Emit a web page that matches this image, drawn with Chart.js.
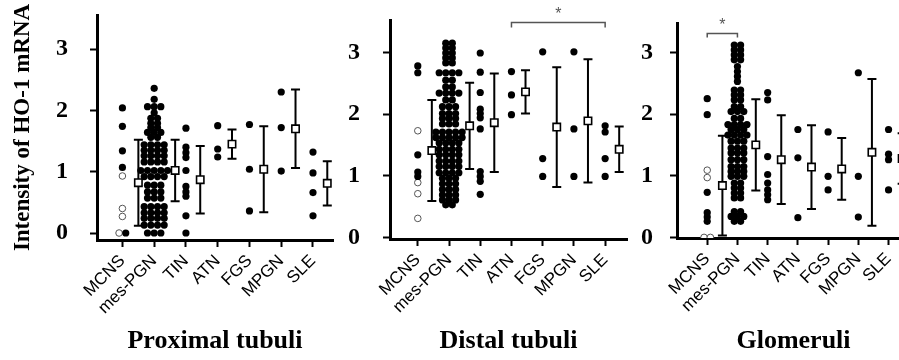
<!DOCTYPE html>
<html>
<head>
<meta charset="utf-8">
<script src="https://cdn.jsdelivr.net/npm/chart.js@4.4.0/dist/chart.umd.min.js"></script>
<style>
  html, body { margin: 0; padding: 0; background: #fff; }
  body { width: 899px; height: 360px; overflow: hidden; position: relative; }
  canvas { position: absolute; top: 0; }
</style>
</head>
<body>
<canvas id="proximal" width="345" height="360" style="left:0px"></canvas>
<canvas id="distal" width="295" height="360" style="left:345px"></canvas>
<canvas id="glomeruli" width="285" height="360" style="left:640px"></canvas>
<script>
const categories = ['MCNS', 'mes-PGN', 'TIN', 'ATN', 'FGS', 'MPGN', 'SLE'];
const yTickValues = [0, 1, 2, 3];

// Proximal tubuli
const proximalOpen = [0.93, 0.40, 0.27, 0]; // MCNS cases drawn as open circles
const proximalDots = [
  [2.04, 1.74, 1.34, 1.07, 0],
  [2.36, 2.18, 2.06, 2.06, 2.06, 1.96, 1.87, 1.87, 1.79, 1.79, 1.72, 1.72, 1.64, 1.64, 1.64,
   1.56, 1.56, 1.44, 1.44, 1.44, 1.44, 1.35, 1.35, 1.35, 1.35, 1.26, 1.26, 1.26, 1.26,
   1.16, 1.16, 1.16, 1.16, 1.02, 1.02, 1.02, 1.02, 1.02, 0.92, 0.92, 0.92, 0.92,
   0.78, 0.78, 0.78, 0.67, 0.67, 0.67, 0.57, 0.57, 0.57, 0.43, 0.43, 0.43, 0.43,
   0.33, 0.33, 0.33, 0.33, 0.24, 0.24, 0.24, 0.24, 0.13, 0.13, 0.13, 0.13, 0, 0, 0],
  [1.71, 1.40, 1.31, 1.23, 1.02, 0.76, 0.67, 0.60, 0.28, 0],
  [1.75, 1.37, 1.24],
  [1.77, 1.04, 0.36],
  [2.30, 1.72, 1.01],
  [1.32, 0.98, 0.66, 0.28]
];
const proximalMean = [0.82, 1.02, 0.87, 1.45, 1.04, 1.70, 0.81];
const proximalSD = [0.70, 0.50, 0.55, 0.24, 0.70, 0.64, 0.36];

// Distal tubuli
const distalOpen = [1.73, 0.89, 0.71, 0.31];
const distalDots = [
  [2.78, 2.67, 1.34, 1.06, 0.99],
  [3.15, 3.15, 3.07, 3.07, 2.99, 2.99, 2.91, 2.91, 2.83, 2.83, 2.67, 2.67, 2.67, 2.67,
   2.55, 2.55, 2.44, 2.44, 2.34, 2.34, 2.34, 2.34, 2.23, 2.23, 2.12, 2.12, 2.12,
   2.01, 2.01, 2.01, 1.93, 1.93, 1.93, 1.84, 1.84, 1.84, 1.71, 1.71, 1.71, 1.71, 1.71,
   1.62, 1.62, 1.62, 1.62, 1.62, 1.53, 1.53, 1.53, 1.53, 1.43, 1.43, 1.43, 1.43,
   1.34, 1.34, 1.34, 1.34, 1.24, 1.24, 1.24, 1.24, 1.15, 1.15, 1.15, 1.15,
   1.05, 1.05, 1.05, 1.05, 0.96, 0.96, 0.96, 0.87, 0.87, 0.87, 0.78, 0.78, 0.78,
   0.69, 0.69, 0.69, 0.61, 0.61, 0.61, 0.53, 0.53],
  [2.99, 2.68, 2.35, 2.08, 2.01, 1.94, 1.76, 1.07, 0.99, 0.91, 0.70],
  [2.69, 2.31, 1.99],
  [3.01, 1.28, 0.99],
  [3.01, 1.76, 0.99],
  [1.81, 1.71, 1.28, 0.99]
];
const distalMean = [1.41, 1.81, 1.86, 2.36, 1.79, 1.89, 1.43];
const distalSD = [0.82, 0.70, 0.80, 0.35, 0.97, 1.00, 0.37];
const distalSig = [3, 6]; // ATN vs SLE

// Glomeruli
const glomOpen = [1.09, 0.97, 0, 0];
const glomDots = [
  [2.25, 1.99, 0.73, 0.40, 0.33, 0.26],
  [3.12, 3.12, 3.04, 3.04, 2.96, 2.96, 2.88, 2.88, 2.77, 2.69, 2.61, 2.53,
   2.39, 2.39, 2.31, 2.31, 2.23, 2.23, 2.12, 2.12, 2.04, 2.04, 2.04, 1.93, 1.93,
   1.83, 1.83, 1.83, 1.83, 1.75, 1.75, 1.75, 1.66, 1.66, 1.66, 1.66,
   1.56, 1.56, 1.56, 1.45, 1.45, 1.45, 1.37, 1.37, 1.37, 1.26, 1.26, 1.26,
   1.15, 1.15, 1.15, 1.07, 1.07, 1.07, 0.99, 0.99, 0.99, 0.88, 0.88, 0.80, 0.80,
   0.72, 0.72, 0.64, 0.64, 0.42, 0.42, 0.34, 0.34, 0.34, 0.26, 0.26],
  [2.35, 2.23, 1.31, 1.02, 0.88, 0.77, 0.69, 0.61],
  [1.75, 1.29, 0.32],
  [1.71, 0.99, 0.77],
  [2.67, 0.99, 0.33],
  [1.75, 1.35, 1.26, 0.77]
];
const glomMean = [0.84, 1.50, 1.26, 1.14, 1.11, 1.38, 1.28];
const glomSD = [0.81, 0.74, 0.72, 0.68, 0.50, 1.19, 0.41];
const glomSig = [0, 1]; // MCNS vs mes-PGN

const STEP = 0.21; // spacing of tied dots, in category units

// lay tied values side by side (open circles first)
function swarm(dotsByCat, openVals) {
  const filled = [], open = [], halfWidth = [];
  dotsByCat.forEach((vals, i) => {
    const all = (i === 0 ? openVals.map(v => ({ v, open: true })) : [])
      .concat(vals.map(v => ({ v, open: false })));
    const groups = new Map();
    all.forEach(d => {
      const k = d.v.toFixed(2);
      if (!groups.has(k)) groups.set(k, []);
      groups.get(k).push(d);
    });
    let hw = 0;
    groups.forEach(g => {
      g.forEach((d, k) => {
        const pt = { x: i + (k - (g.length - 1) / 2) * STEP, y: d.v };
        (d.open ? open : filled).push(pt);
      });
      hw = Math.max(hw, (g.length - 1) / 2 * STEP);
    });
    halfWidth.push(hw);
  });
  return { filled, open, halfWidth };
}

const errorBars = {
  id: 'errorBars',
  beforeDatasetsDraw(chart) {
    const { ctx, scales: { x, y } } = chart;
    chart.data.datasets.forEach(ds => {
      if (!ds.sd) return;
      ctx.save();
      ctx.strokeStyle = '#000';
      ctx.lineWidth = 2;
      ds.data.forEach((p, i) => {
        const px = x.getPixelForValue(p.x);
        const top = y.getPixelForValue(p.y + ds.sd[i]);
        const bot = y.getPixelForValue(p.y - ds.sd[i]);
        ctx.beginPath();
        ctx.moveTo(px, top); ctx.lineTo(px, bot);
        ctx.moveTo(px - 4.5, top); ctx.lineTo(px + 4.5, top);
        ctx.moveTo(px - 4.5, bot); ctx.lineTo(px + 4.5, bot);
        ctx.stroke();
      });
      ctx.restore();
    });
  }
};

const sigBracket = {
  id: 'sigBracket',
  afterDatasetsDraw(chart, args, opts) {
    if (!opts || !opts.pair) return;
    const { ctx, scales: { x } } = chart;
    const x1 = x.getPixelForValue(opts.pair[0]);
    const x2 = x.getPixelForValue(opts.pair[1]);
    const yb = chart.chartArea.top + opts.offset;
    ctx.save();
    ctx.strokeStyle = '#555';
    ctx.lineWidth = 1.5;
    ctx.beginPath();
    ctx.moveTo(x1, yb + opts.drop); ctx.lineTo(x1, yb);
    ctx.lineTo(x2, yb); ctx.lineTo(x2, yb + opts.drop);
    ctx.stroke();
    ctx.fillStyle = '#555';
    ctx.font = '16px "Liberation Sans"';
    ctx.textAlign = 'center';
    ctx.textBaseline = 'middle';
    ctx.fillText('*', (x1 + x2) / 2, yb - 8);
    ctx.restore();
  }
};

function makeChart(id, o) {
  const s = swarm(o.dots, o.open);
  const means = o.mean.map((m, i) => ({ x: i + 0.45 + s.halfWidth[i] * 0.5, y: m }));
  const axisLine = { display: true, width: 3, color: '#000' };
  const tickMarks = { drawOnChartArea: false, drawTicks: true, tickLength: 7, tickWidth: 2, tickColor: '#000' };
  return new Chart(document.getElementById(id), {
    type: 'scatter',
    data: {
      datasets: [
        { data: s.filled, pointRadius: 3.6, pointHoverRadius: 3.6, backgroundColor: '#000', borderWidth: 0 },
        { data: s.open, pointRadius: 3.3, pointHoverRadius: 3.3, backgroundColor: '#fff', borderColor: '#555', borderWidth: 1 },
        { data: means, sd: o.sd, pointStyle: 'rect', pointRadius: 5.2, pointHoverRadius: 5.2,
          backgroundColor: '#fff', borderColor: '#000', borderWidth: 1.6 }
      ]
    },
    options: {
      responsive: false,
      animation: false,
      devicePixelRatio: 1,
      layout: { padding: { top: o.top, right: o.right, bottom: 0, left: 0 } },
      plugins: {
        legend: { display: false },
        tooltip: { enabled: false },
        sigBracket: o.bracket || false
      },
      scales: {
        x: {
          type: 'linear',
          min: o.xMin, max: o.xMax,
          afterBuildTicks: ax => { ax.ticks = categories.map((c, i) => ({ value: i })); },
          afterFit: ax => { ax.height = 360 - o.bottom; },
          ticks: {
            autoSkip: false, maxRotation: 45, minRotation: 45, padding: 4, color: '#000',
            font: { family: 'Liberation Sans', size: 17 },
            callback: v => categories[v]
          },
          grid: tickMarks,
          border: axisLine,
          title: {
            display: true, text: o.title, color: '#000',
            font: { family: 'Liberation Serif', size: 26, weight: 'bold' },
            padding: { top: 0, bottom: 3 }
          }
        },
        y: {
          min: o.yMin, max: o.yMax,
          afterBuildTicks: ax => { ax.ticks = yTickValues.map(v => ({ value: v })); },
          afterFit: ax => { ax.width = o.left; ax.paddingTop = 0; ax.paddingBottom = 0; },
          ticks: {
            padding: o.tickPad, color: '#000',
            font: { family: 'Liberation Serif', size: 24, weight: 'bold' }
          },
          grid: tickMarks,
          border: axisLine,
          title: o.yTitle ? {
            display: true, text: o.yTitle, color: '#000',
            font: { family: 'Liberation Serif', size: 23, weight: 'bold' },
            padding: { top: 9, bottom: 0 }
          } : { display: false }
        }
      }
    },
    plugins: [errorBars, sigBracket]
  });
}

makeChart('proximal', {
  dots: proximalDots, open: proximalOpen, mean: proximalMean, sd: proximalSD,
  title: 'Proximal tubuli', yTitle: 'Intensity of HO-1 mRNA',
  left: 97, right: 12, top: 15, bottom: 240, tickPad: 22,
  xMin: -0.8, xMax: 6.63, yMin: -0.114, yMax: 3.556
});

makeChart('distal', {
  dots: distalDots, open: distalOpen, mean: distalMean, sd: distalSD,
  title: 'Distal tubuli',
  left: 45, right: 13, top: 20, bottom: 239, tickPad: 23,
  xMin: -0.89, xMax: 6.7, yMin: -0.024, yMax: 3.525,
  bracket: { pair: distalSig, offset: 2.5, drop: 5 }
});

makeChart('glomeruli', {
  dots: glomDots, open: glomOpen, mean: glomMean, sd: glomSD,
  title: 'Glomeruli',
  left: 37, right: 15, top: 23, bottom: 238, tickPad: 17,
  xMin: -1.0, xMax: 6.71, yMin: -0.01, yMax: 3.477,
  bracket: { pair: glomSig, offset: 10.5, drop: 4 }
});
</script>
</body>
</html>
